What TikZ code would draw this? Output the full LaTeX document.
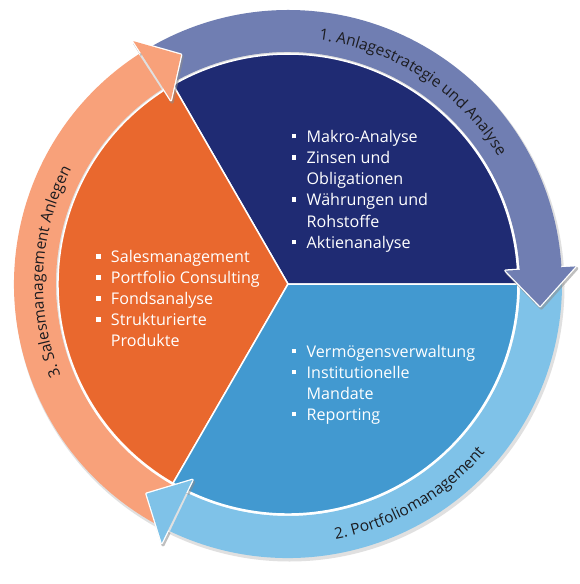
\documentclass[tikz,border=0pt]{standalone}
\usepackage{fontspec}
\setmainfont{Open Sans}
\usetikzlibrary{decorations.text}
\definecolor{navy}{RGB}{31,43,115}
\definecolor{skyS}{RGB}{66,153,208}
\definecolor{orangeS}{RGB}{233,104,46}
\definecolor{purpleA}{RGB}{112,126,178}
\definecolor{skyA}{RGB}{127,194,232}
\definecolor{salmonA}{RGB}{248,161,122}
\definecolor{labelc}{RGB}{28,28,32}
\newcommand{\listfont}{\fontsize{16.1}{19}\selectfont}
\newcommand{\labfont}{\fontsize{15.5}{18}\selectfont}
\newcommand{\bul}{\makebox[14.8pt][l]{\rule[4pt]{4.5pt}{4.5pt}}}
\newcommand{\ind}{\hspace*{14.8pt}}
\newcommand{\bandpath}[2]{(#1:232pt) arc[start angle=#1, end angle=#2, radius=232pt] -- (#2:274pt) arc[start angle=#2, end angle=#1, radius=274pt] -- cycle}
\newcommand{\ahead}[3]{%
  \draw[headshadow] (#2:232pt) -- (#2:218pt) -- (#3:253pt) -- (#2:288pt) -- (#2:274pt);
  \draw[headrim] (#2:232pt) -- (#2:218pt) -- (#3:253pt) -- (#2:288pt) -- (#2:274pt);
  \fill[#1] (#2:218pt) -- (#3:253pt) -- (#2:288pt) -- cycle;}
\begin{document}
\begin{tikzpicture}[x=1pt,y=1pt,
  item/.style={anchor=base west, inner sep=0pt, text=white, font=\listfont},
  sector/.style={draw=white, line width=1.5pt, line join=round},
  headshadow/.style={draw=black!45, opacity=0.55, line width=3.2pt, line join=round, shift={(1.3,-2)}},
  headrim/.style={draw=white, line width=2.6pt, line join=round},
  ringlabel/.style={decorate, decoration={text along path, text align=center, text color=labelc}}]
\useasboundingbox (-288,-300) rectangle (292,284);
\fill[white] (-288,-300) rectangle (292,284);
% soft shadow of the ring
\fill[black!40, opacity=0.3, even odd rule, shift={(1.5,-2.5)}] (0,0) circle[radius=275pt] (0,0) circle[radius=232pt];
% arrow bands
\fill[purpleA] \bandpath{121}{3};
\fill[skyA] \bandpath{2}{-115.5};
\fill[salmonA] \bandpath{242.5}{123};
% pie
\filldraw[sector, fill=navy] (0,0) -- (0:230pt) arc[start angle=0, end angle=120, radius=230pt] -- cycle;
\filldraw[sector, fill=orangeS] (0,0) -- (120:230pt) arc[start angle=120, end angle=240, radius=230pt] -- cycle;
\filldraw[sector, fill=skyS] (0,0) -- (240:230pt) arc[start angle=240, end angle=360, radius=230pt] -- cycle;
% arrow heads
\ahead{purpleA}{3.5}{-5}
\ahead{skyA}{-116}{-124}
\ahead{salmonA}{122.5}{115}
% ring labels
\path[ringlabel, decoration={text={|\labfont|1. Anlagestrategie und Analyse}}] (110:246pt) arc[start angle=110, end angle=4, radius=246pt];
\path[ringlabel, decoration={text={|\labfont|2. Portfoliomanagement}}] (-110:259.5pt) arc[start angle=-110, end angle=-10, radius=259.5pt];
\path[ringlabel, decoration={text={|\labfont|3. Salesmanagement Anlegen}}] (230:245pt) arc[start angle=230, end angle=124, radius=245pt];
% list: Anlagestrategie
\node[item] (a1) at (3.7,141.7) {\bul Makro-Analyse};
\node[item] (a2) at (3.7,120.5) {\bul Zinsen und};
\node[item] (a3) at (3.7,99.3) {\ind Obligationen};
\node[item] (a4) at (3.7,78.1) {\bul Währungen und};
\node[item] (a5) at (3.7,56.9) {\ind Rohstoffe};
\node[item] (a6) at (3.7,35.7) {\bul Aktienanalyse};
% list: Salesmanagement
\node[item] (s1) at (-192,21.5) {\bul Salesmanagement};
\node[item] (s2) at (-192,0.5) {\bul Portfolio Consulting};
\node[item] (s3) at (-192,-20.5) {\bul Fondsanalyse};
\node[item] (s4) at (-192,-41.5) {\bul Strukturierte};
\node[item] (s5) at (-192,-62.5) {\ind Produkte};
% list: Portfoliomanagement
\node[item] (p1) at (3.7,-73) {\bul Vermögensverwaltung};
\node[item] (p2) at (3.7,-94) {\bul Institutionelle};
\node[item] (p3) at (3.7,-115) {\ind Mandate};
\node[item] (p4) at (3.7,-136) {\bul Reporting};
\end{tikzpicture}
\end{document}
